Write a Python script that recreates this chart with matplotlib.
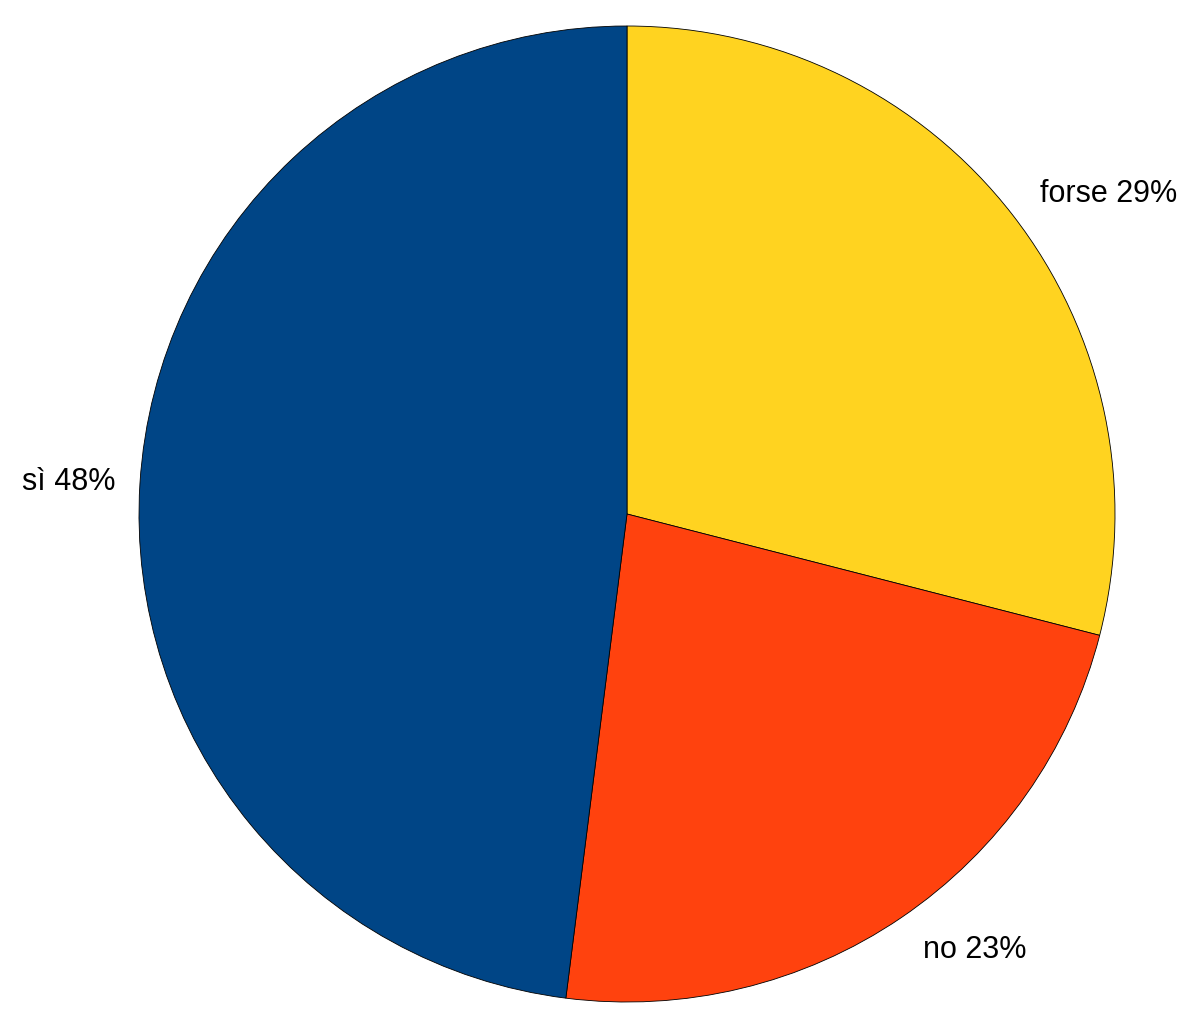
import numpy as np
import matplotlib.pyplot as plt

labels = ["forse", "no", "sì"]
values = [29, 23, 48]
colors = ["#ffd320", "#ff420e", "#004586"]

plt.rcParams['font.family'] = ['Liberation Sans', 'DejaVu Sans']

fig = plt.figure(figsize=(11.87, 10.21), dpi=100)
ax = fig.add_axes([0, 0, 1, 1])

# pie centre at pixel (627, 514), radius 488 px
r_px = 488.0
cx, cy = 627.0, 514.0
ax.axis('off')

texts = ["%s %d%%" % (l, v) for l, v in zip(labels, values)]
wedges, lbls = ax.pie(values, labels=texts, colors=colors, startangle=90,
                      counterclock=False, labeldistance=1.075, radius=1.0,
                      wedgeprops=dict(edgecolor='black', linewidth=0.6),
                      textprops=dict(fontsize=22, color='black'))

# small per-label distance tweaks
dists = [1.07, 1.08, 1.05]
for w, t, d in zip(wedges, lbls, dists):
    ang = np.deg2rad((w.theta1 + w.theta2) / 2)
    t.set_position((d * np.cos(ang), d * np.sin(ang)))

ax.set_aspect('auto')
ax.set_xlim(-cx / r_px, (1187 - cx) / r_px)
ax.set_ylim(-(1021 - cy) / r_px, cy / r_px)

fig.savefig("out.png", dpi=100, facecolor='white')
